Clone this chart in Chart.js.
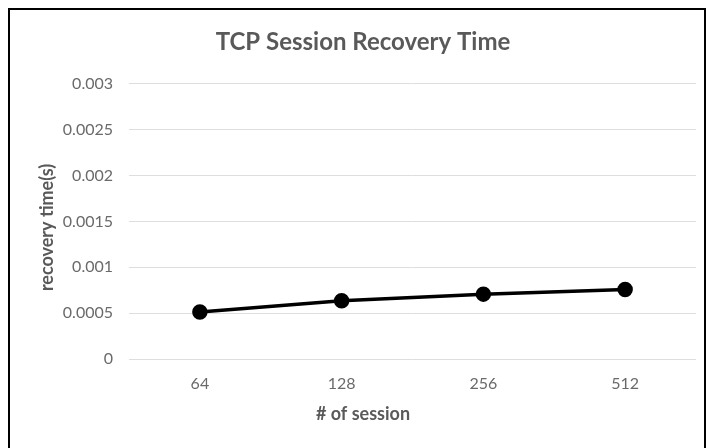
<!DOCTYPE html>
<html>
<head>
<meta charset="utf-8">
<script src="https://cdn.jsdelivr.net/npm/chart.js@4/dist/chart.umd.min.js"></script>
<style>
  html, body { margin: 0; padding: 0; background: #fff; }
  #wrap { position: relative; width: 707px; height: 448px; }
  #frame { position: absolute; left: 8px; top: 8px; width: 698px; height: 450px; border: 2px solid #000; box-sizing: border-box; pointer-events: none; }
  canvas { position: absolute; left: 0; top: 0; }
</style>
</head>
<body>
<div id="wrap">
  <canvas id="chart" width="707" height="448"></canvas>
  <div id="frame"></div>
</div>
<script>
const sessions = ['64', '128', '256', '512'];
const recoveryTime = [0.000513, 0.000634, 0.000707, 0.000758];
const yTicks = [0, 0.0005, 0.001, 0.0015, 0.002, 0.0025, 0.003];
const xAxisTitle = '# of session';
const yAxisTitle = 'recovery time(s)';

const grey = '#595959';
const tickGrey = '#6a6a6a';
const fontFamily = 'Lato, "Open Sans", sans-serif';

// axis titles are centred like the Excel original, not on the plot area
const axisTitles = {
  id: 'axisTitles',
  afterDraw(chart) {
    const c = chart.ctx;
    const area = chart.chartArea;
    const cx = (chart.titleBlock.left + chart.titleBlock.right) / 2;
    c.save();
    c.fillStyle = grey;
    c.font = 'bold 18px ' + fontFamily;
    c.textAlign = 'center';
    c.textBaseline = 'middle';
    c.fillText(xAxisTitle, cx, 414);
    c.translate(47, (area.top + area.bottom) / 2 + 6);
    c.rotate(-Math.PI / 2);
    c.fillText(yAxisTitle, 0, 0);
    c.restore();
  }
};

const ctx = document.getElementById('chart').getContext('2d');
new Chart(ctx, {
  type: 'line',
  data: {
    labels: sessions,
    datasets: [{
      data: recoveryTime,
      borderColor: '#000',
      backgroundColor: '#000',
      borderWidth: 3.5,
      pointRadius: 6,
      pointBackgroundColor: '#000',
      pointBorderColor: '#000',
      tension: 0
    }]
  },
  options: {
    responsive: false,
    animation: false,
    layout: { padding: { left: 30, right: 11, top: 8, bottom: 0 } },
    scales: {
      x: {
        offset: true,
        afterFit: (axis) => { axis.height = 89; },
        grid: { display: false, drawTicks: false },
        border: { display: false },
        ticks: { color: tickGrey, font: { family: fontFamily, size: 16 }, padding: 15 }
      },
      y: {
        min: 0,
        max: 0.003,
        afterFit: (axis) => { axis.width = 99; },
        afterBuildTicks: (axis) => { axis.ticks = yTicks.map(v => ({ value: v })); },
        grid: { color: '#dedede', drawTicks: false },
        border: { display: false },
        ticks: {
          color: tickGrey,
          font: { family: fontFamily, size: 16 },
          padding: 16,
          callback: (v) => String(parseFloat(Number(v).toFixed(4)))
        }
      }
    },
    plugins: {
      legend: { display: false },
      tooltip: { enabled: false },
      title: {
        display: true,
        text: 'TCP Session Recovery Time',
        color: grey,
        font: { family: fontFamily, size: 24, weight: 'bold' },
        padding: { top: 20, bottom: 27 }
      }
    }
  },
  plugins: [axisTitles]
});
</script>
</body>
</html>
